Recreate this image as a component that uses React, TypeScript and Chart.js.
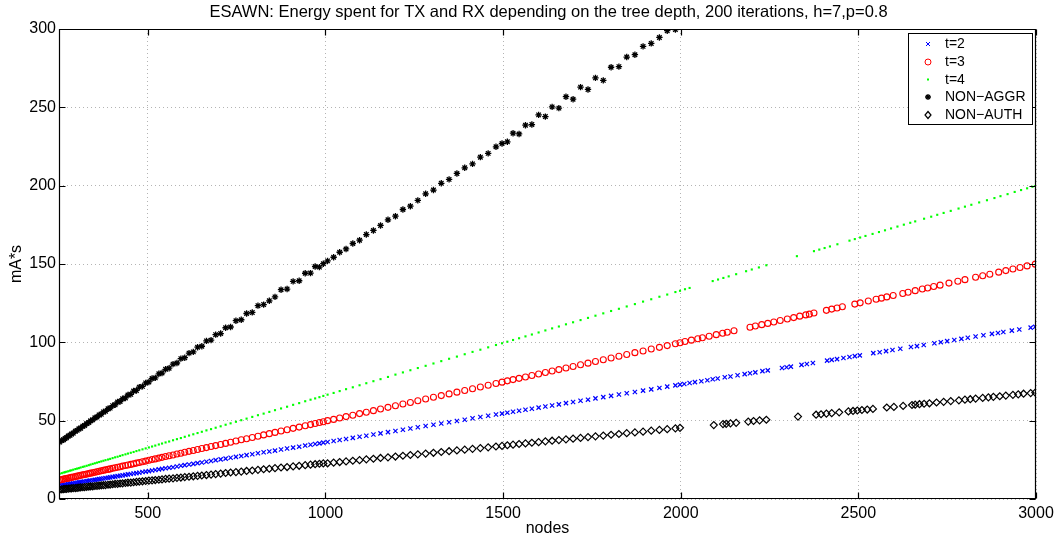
import React, { useEffect, useRef } from 'react';
import { Chart, registerables } from 'chart.js';

Chart.register(...registerables);

const FONT = '"Liberation Sans", Arial, Helvetica, sans-serif';

const titleText =
  'ESAWN: Energy spent for TX and RX depending on the tree depth, 200 iterations, h=7,p=0.8';
const xLabel = 'nodes';
const yLabel = 'mA*s';

const xTicks = [500, 1000, 1500, 2000, 2500, 3000];
const yTicks = [0, 50, 100, 150, 200, 250, 300];

const seriesNames = ['t=2', 't=3', 't=4', 'NON\u2212AGGR', 'NON\u2212AUTH'];

// node counts shared by every series up to ~2000 nodes
const nodes = [
  252, 258, 263, 267, 271, 276, 281, 285, 290, 296, 301, 306, 311, 317, 322, 328, 334, 339, 345, 351,
  357, 363, 369, 375, 381, 388, 394, 401, 408, 415, 422, 429, 437, 444, 452, 460, 468, 476, 485, 494,
  503, 512, 521, 531, 540, 550, 560, 571, 582, 593, 604, 616, 628, 640, 652, 665, 678, 691, 705, 719,
  733, 748, 763, 778, 794, 810, 826, 842, 858, 875, 892, 909, 926, 943, 958, 971, 983, 994,
  1006, 1023, 1040, 1058, 1077, 1096, 1115, 1135, 1155, 1176, 1197, 1218, 1239, 1260, 1282, 1304, 1326,
  1348, 1370, 1392, 1414, 1436, 1458, 1480, 1497,
  1512, 1528, 1545, 1563, 1581, 1600, 1619, 1638, 1657, 1677, 1697, 1718, 1739, 1760, 1782, 1804, 1826,
  1848, 1871, 1894, 1917, 1940, 1962, 1985, 1998,
];

// node counts above 2000, per series
const nodesT2Tail = [
  2010, 2025, 2040, 2058, 2075, 2090, 2104, 2124, 2140, 2160, 2180, 2195, 2210, 2230, 2245, 2285, 2298,
  2310, 2340, 2355, 2372, 2412, 2425, 2440, 2458, 2475, 2490, 2504, 2542, 2560, 2578, 2596, 2618, 2648,
  2665, 2684, 2714, 2732, 2750, 2770, 2790, 2808, 2830, 2852, 2876, 2893, 2908, 2932, 2953, 2985, 2998,
];
const nodesT3Tail = [
  2012, 2030, 2048, 2061, 2080, 2100, 2118, 2131, 2150, 2195, 2210, 2228, 2245, 2262, 2280, 2300, 2318,
  2335, 2352, 2362, 2375, 2410, 2425, 2440, 2455, 2490, 2505, 2528, 2550, 2565, 2580, 2598, 2625, 2640,
  2660, 2680, 2695, 2712, 2730, 2755, 2780, 2800, 2830, 2850, 2870, 2895, 2915, 2935, 2955, 2975, 2998,
];
const nodesT4Tail = [
  2012, 2025, 2090, 2105, 2120, 2135, 2156, 2184, 2200, 2220, 2241, 2327, 2375, 2390, 2405, 2420, 2441,
  2475, 2490, 2505, 2520, 2540, 2558, 2575, 2592, 2610, 2628, 2646, 2660, 2685, 2705, 2722, 2740, 2760,
  2782, 2800, 2818, 2840, 2862, 2883, 2900, 2920, 2940, 2958, 2975, 2990, 2998,
];
const nodesAuthTail = [
  2093, 2119, 2128, 2140, 2156, 2190, 2205, 2222, 2241, 2330, 2381, 2395, 2410, 2425, 2446, 2472, 2485,
  2497, 2510, 2525, 2541, 2580, 2600, 2626, 2651, 2660, 2672, 2685, 2700, 2720, 2740, 2760, 2783, 2800,
  2815, 2830, 2850, 2866, 2880, 2898, 2915, 2935, 2950, 2965, 2985, 2998,
];

// energy (mA*s), t=2
const energyT2 = [
  8.6, 8.8, 9.0, 9.1, 9.3, 9.5, 9.6, 9.8, 10.0, 10.2, 10.4, 10.6, 10.8, 11.0, 11.2, 11.4, 11.6, 11.8, 12.0, 12.2,
  12.4, 12.7, 12.9, 13.1, 13.3, 13.6, 13.8, 14.1, 14.3, 14.6, 14.8, 15.1, 15.4, 15.7, 16.0, 16.3, 16.5, 16.8, 17.2, 17.5,
  17.8, 18.2, 18.5, 18.9, 19.2, 19.6, 19.9, 20.3, 20.7, 21.2, 21.6, 22.0, 22.4, 22.9, 23.3, 23.8, 24.3, 24.8, 25.3, 25.8,
  26.3, 26.9, 27.4, 28.0, 28.6, 29.2, 29.8, 30.3, 30.9, 31.6, 32.2, 32.8, 33.4, 34.1, 34.6, 35.1, 35.5, 36.0,
  36.4, 37.0, 37.7, 38.3, 39.0, 39.7, 40.4, 41.2, 41.9, 42.7, 43.4, 44.2, 45.0, 45.8, 46.6, 47.4, 48.2,
  49.0, 49.8, 50.6, 51.5, 52.3, 53.1, 53.9, 54.5,
  55.1, 55.7, 56.3, 57.0, 57.6, 58.3, 59.0, 59.7, 60.4, 61.2, 61.9, 62.7, 63.4, 64.2, 65.0, 65.8, 66.7,
  67.5, 68.3, 69.2, 70.0, 70.9, 71.7, 72.5, 73.0,
  73.4, 74.0, 74.6, 75.2, 75.8, 76.4, 76.9, 77.7, 78.2, 79.0, 79.7, 80.3, 80.8, 81.6, 82.1, 83.6, 84.1,
  84.5, 85.6, 86.2, 86.8, 88.3, 88.8, 89.3, 90.0, 90.6, 91.2, 91.7, 93.1, 93.7, 94.4, 95.1, 95.9, 97.0,
  97.6, 98.3, 99.4, 100.1, 100.8, 101.5, 102.2, 102.9, 103.7, 104.5, 105.4, 106.0, 106.6, 107.5, 108.2, 109.4, 109.9,
];

// energy (mA*s), t=3
const energyT3 = [
  12.1, 12.4, 12.7, 12.9, 13.1, 13.3, 13.6, 13.8, 14.0, 14.3, 14.6, 14.8, 15.1, 15.4, 15.6, 15.9, 16.2, 16.5, 16.8, 17.1,
  17.4, 17.7, 18.0, 18.3, 18.6, 18.9, 19.2, 19.6, 19.9, 20.3, 20.6, 21.0, 21.4, 21.7, 22.1, 22.5, 22.9, 23.3, 23.8, 24.2,
  24.7, 25.2, 25.6, 26.1, 26.6, 27.1, 27.6, 28.1, 28.7, 29.2, 29.8, 30.4, 31.0, 31.6, 32.2, 32.8, 33.5, 34.1, 34.8, 35.5,
  36.2, 37.0, 37.8, 38.5, 39.3, 40.1, 40.9, 41.7, 42.5, 43.4, 44.2, 45.1, 45.9, 46.8, 47.5, 48.2, 48.8, 49.3,
  50.0, 50.8, 51.7, 52.6, 53.5, 54.5, 55.4, 56.4, 57.4, 58.5, 59.5, 60.6, 61.6, 62.7, 63.8, 64.9, 66.0,
  67.1, 68.2, 69.3, 70.4, 71.5, 72.6, 73.7, 74.6,
  75.4, 76.2, 77.0, 77.9, 78.8, 79.8, 80.7, 81.7, 82.6, 83.6, 84.6, 85.7, 86.7, 87.8, 88.9, 90.0, 91.1,
  92.2, 93.4, 94.5, 95.7, 96.8, 97.9, 99.1, 99.7,
  100.5, 101.4, 102.3, 102.9, 103.9, 104.9, 105.8, 106.4, 107.4, 109.6, 110.4, 111.3, 112.1, 113.0, 113.9, 114.9, 115.8,
  116.7, 117.5, 118.0, 118.7, 120.4, 121.2, 121.9, 122.7, 124.4, 125.2, 126.4, 127.5, 128.2, 129.0, 129.9, 131.2, 132.0,
  133.0, 134.0, 134.7, 135.6, 136.5, 137.8, 139.0, 140.0, 141.5, 142.5, 143.5, 144.8, 145.8, 146.8, 147.8, 148.8, 149.9,
];

// energy (mA*s), t=4
const energyT4 = [
  16.1, 16.5, 16.9, 17.1, 17.4, 17.7, 18.1, 18.3, 18.7, 19.1, 19.4, 19.7, 20.1, 20.5, 20.8, 21.2, 21.6, 22.0, 22.4, 22.8,
  23.2, 23.6, 24.0, 24.4, 24.8, 25.2, 25.6, 26.1, 26.6, 27.0, 27.5, 28.0, 28.5, 29.0, 29.5, 30.0, 30.6, 31.1, 31.7, 32.3,
  32.9, 33.5, 34.1, 34.8, 35.4, 36.1, 36.7, 37.5, 38.2, 38.9, 39.7, 40.5, 41.3, 42.1, 42.9, 43.8, 44.6, 45.5, 46.4, 47.4,
  48.3, 49.3, 50.3, 51.3, 52.4, 53.5, 54.5, 55.6, 56.7, 57.8, 58.9, 60.1, 61.2, 62.4, 63.4, 64.2, 65.0, 65.8,
  66.6, 67.7, 68.9, 70.1, 71.3, 72.6, 73.9, 75.2, 76.5, 77.9, 79.4, 80.8, 82.2, 83.6, 85.0, 86.5, 88.0,
  89.5, 90.9, 92.4, 93.9, 95.3, 96.8, 98.3, 99.4,
  100.4, 101.5, 102.6, 103.8, 105.0, 106.3, 107.6, 108.9, 110.1, 111.5, 112.8, 114.2, 115.6, 117.0, 118.5, 120.0, 121.4,
  122.9, 124.4, 126.0, 127.5, 129.1, 130.5, 132.1, 132.9,
  133.9, 134.7, 139.1, 140.1, 141.1, 142.1, 143.5, 145.4, 146.5, 147.8, 149.2, 155.0, 158.2, 159.2, 160.2, 161.2, 162.6,
  164.9, 165.9, 166.9, 167.9, 169.2, 170.4, 171.5, 172.7, 173.9, 175.1, 176.3, 177.2, 178.9, 180.2, 181.4, 182.6, 183.9,
  185.4, 186.6, 187.8, 189.3, 190.7, 192.1, 193.3, 194.6, 196.0, 197.2, 198.3, 199.3, 199.8,
];

// energy (mA*s), without aggregation (leaves the axis above 300)
const energyNonAggr = [
  36.3, 37.4, 37.8, 38.7, 39.1, 40.2, 40.6, 41.5, 42.0, 43.3, 43.8, 44.8, 45.2, 46.5, 46.9, 48.2, 48.8, 49.9, 50.5, 51.8,
  52.3, 53.7, 54.1, 55.6, 56.0, 57.6, 58.0, 59.6, 60.1, 61.9, 62.2, 64.0, 64.5, 66.4, 66.8, 68.9, 69.3, 71.4, 71.9, 74.1,
  74.7, 76.9, 77.3, 79.9, 80.4, 82.8, 83.5, 86.1, 86.8, 89.6, 90.2, 93.1, 93.9, 96.9, 97.5, 100.9, 101.4, 104.9, 105.6, 109.3,
  109.8, 113.8, 114.4, 118.4, 119.1, 123.4, 124.1, 126.5, 129.0, 133.6, 134.0, 138.9, 139.3, 144.1, 144.2, 148.4, 148.0, 150.2,
  152.0, 154.3, 157.5, 159.6, 163.1, 165.2, 168.8, 171.4, 174.6, 178.2, 180.5, 184.8, 186.9, 190.6, 194.8, 197.2, 201.5,
  204.0, 207.8, 211.4, 213.9, 218.2, 220.6, 224.8, 226.9,
  228.0, 233.5, 233.0, 238.6, 239.0, 245.2, 244.1, 250.3, 249.5, 256.8, 255.2, 262.9, 261.4, 268.8, 267.2, 275.6, 276.0,
  282.1, 283.6, 288.9, 290.8, 294.6, 298.9, 299.6,
];

// energy (mA*s), without authentication
const energyNonAuth = [
  6.0, 6.2, 6.3, 6.4, 6.5, 6.6, 6.7, 6.8, 6.9, 7.0, 7.1, 7.3, 7.4, 7.5, 7.6, 7.8, 7.9, 8.0, 8.1, 8.3,
  8.4, 8.5, 8.7, 8.8, 8.9, 9.1, 9.2, 9.4, 9.6, 9.7, 9.9, 10.0, 10.2, 10.4, 10.5, 10.7, 10.9, 11.1, 11.3, 11.5,
  11.7, 11.9, 12.1, 12.3, 12.5, 12.8, 13.0, 13.2, 13.5, 13.7, 14.0, 14.2, 14.5, 14.8, 15.0, 15.3, 15.6, 15.9, 16.2, 16.6,
  16.9, 17.2, 17.5, 17.9, 18.2, 18.6, 19.0, 19.3, 19.7, 20.1, 20.4, 20.8, 21.2, 21.6, 21.9, 22.2, 22.5, 22.7,
  22.8, 23.2, 23.6, 24.0, 24.4, 24.8, 25.3, 25.7, 26.2, 26.6, 27.1, 27.6, 28.1, 28.5, 29.0, 29.5, 30.0,
  30.5, 31.0, 31.5, 32.0, 32.5, 33.0, 33.5, 33.9,
  34.3, 34.7, 35.1, 35.5, 35.9, 36.3, 36.8, 37.2, 37.6, 38.1, 38.5, 39.0, 39.5, 40.0, 40.5, 41.0, 41.5,
  42.0, 42.5, 43.0, 43.6, 44.1, 44.6, 45.1, 45.4,
  47.2, 47.8, 48.0, 48.3, 48.6, 49.4, 49.8, 50.2, 50.6, 52.6, 53.8, 54.1, 54.5, 54.8, 55.3, 55.9, 56.2,
  56.5, 56.8, 57.1, 57.5, 58.4, 58.8, 59.4, 60.0, 60.2, 60.5, 60.8, 61.1, 61.6, 62.0, 62.5, 63.0, 63.4,
  63.7, 64.1, 64.5, 64.9, 65.2, 65.6, 66.0, 66.5, 66.8, 67.2, 67.6, 67.9,
];

const toPoints = (xs: number[], ys: number[]) => ys.map((y, i) => ({ x: xs[i], y }));

// axes frame with inward ticks, title, axis labels and the boxed legend
const figurePlugin = {
  id: 'figureDecor',
  afterDraw(chart: any) {
    const { ctx, chartArea: a, scales } = chart;
    const L = Math.round(a.left) + 0.5;
    const R = Math.round(a.right) - 0.5;
    const T = Math.round(a.top) + 0.5;
    const B = Math.round(a.bottom) - 0.5;
    ctx.save();
    ctx.strokeStyle = '#000';
    ctx.lineWidth = 1.2;
    ctx.setLineDash([]);
    ctx.beginPath();
    ctx.rect(L, T, R - L, B - T);
    const tick = 6;
    xTicks.forEach((v) => {
      const x = Math.round(scales.x.getPixelForValue(v)) + 0.5;
      ctx.moveTo(x, B);
      ctx.lineTo(x, B - tick);
      ctx.moveTo(x, T);
      ctx.lineTo(x, T + tick);
    });
    yTicks.forEach((v) => {
      const y = Math.round(scales.y.getPixelForValue(v)) + 0.5;
      ctx.moveTo(L, y);
      ctx.lineTo(L + tick, y);
      ctx.moveTo(R, y);
      ctx.lineTo(R - tick, y);
    });
    ctx.stroke();

    ctx.fillStyle = '#000';
    ctx.textAlign = 'center';
    ctx.textBaseline = 'middle';
    ctx.font = `16.5px ${FONT}`;
    ctx.fillText(titleText, (a.left + a.right) / 2 + 1, 12);
    ctx.font = `16px ${FONT}`;
    ctx.fillText(xLabel, (a.left + a.right) / 2, 529);
    ctx.save();
    ctx.translate(17, (a.top + a.bottom) / 2);
    ctx.rotate(-Math.PI / 2);
    ctx.fillText(yLabel, 0, 0);
    ctx.restore();

    // legend box
    const bx = 908.5, by = 33.5, bw = 124, bh = 91;
    ctx.fillStyle = '#fff';
    ctx.fillRect(bx, by, bw, bh);
    ctx.lineWidth = 1;
    ctx.strokeStyle = '#000';
    ctx.strokeRect(bx, by, bw, bh);
    const rows = [44, 62, 79.5, 97, 115];
    const mx = 928;
    // t=2 cross
    ctx.strokeStyle = '#0000ff';
    ctx.beginPath();
    ctx.moveTo(mx - 2, rows[0] - 2); ctx.lineTo(mx + 2, rows[0] + 2);
    ctx.moveTo(mx + 2, rows[0] - 2); ctx.lineTo(mx - 2, rows[0] + 2);
    ctx.stroke();
    // t=3 circle
    ctx.strokeStyle = '#ff0000';
    ctx.beginPath();
    ctx.arc(mx, rows[1], 3, 0, Math.PI * 2);
    ctx.stroke();
    // t=4 dot
    ctx.fillStyle = '#00ff00';
    ctx.fillRect(mx - 1, rows[2] - 1, 2, 2);
    // NON-AGGR asterisk
    ctx.strokeStyle = '#000';
    ctx.lineWidth = 1.3;
    ctx.beginPath();
    ctx.moveTo(mx - 3, rows[3]); ctx.lineTo(mx + 3, rows[3]);
    ctx.moveTo(mx, rows[3] - 3); ctx.lineTo(mx, rows[3] + 3);
    ctx.moveTo(mx - 2.1, rows[3] - 2.1); ctx.lineTo(mx + 2.1, rows[3] + 2.1);
    ctx.moveTo(mx + 2.1, rows[3] - 2.1); ctx.lineTo(mx - 2.1, rows[3] + 2.1);
    ctx.stroke();
    // NON-AUTH diamond
    ctx.lineWidth = 1.2;
    ctx.beginPath();
    ctx.moveTo(mx, rows[4] - 3.5);
    ctx.lineTo(mx + 3, rows[4]);
    ctx.lineTo(mx, rows[4] + 3.5);
    ctx.lineTo(mx - 3, rows[4]);
    ctx.closePath();
    ctx.stroke();

    ctx.fillStyle = '#000';
    ctx.textAlign = 'left';
    ctx.font = `14px ${FONT}`;
    seriesNames.forEach((name, i) => ctx.fillText(name, 945, rows[i] + 0.5));
    ctx.restore();
  },
};

export default function App() {
  const canvasRef = useRef<HTMLCanvasElement | null>(null);

  useEffect(() => {
    const canvas = canvasRef.current;
    if (!canvas) return;
    const tickFont = { family: FONT, size: 16 };
    const plainLabel = (v: any) => String(v);
    const chart = new Chart(canvas, {
      type: 'scatter',
      data: {
        datasets: [
          {
            label: seriesNames[0],
            data: toPoints([...nodes, ...nodesT2Tail], energyT2),
            pointStyle: 'crossRot',
            pointRadius: 3,
            pointBorderWidth: 1.2,
            pointBorderColor: '#0000ff',
            pointBackgroundColor: 'rgba(0,0,0,0)',
            order: 4,
          },
          {
            label: seriesNames[1],
            data: toPoints([...nodes, ...nodesT3Tail], energyT3),
            pointStyle: 'circle',
            pointRadius: 3,
            pointBorderWidth: 1.1,
            pointBorderColor: '#ff0000',
            pointBackgroundColor: 'rgba(0,0,0,0)',
            order: 3,
          },
          {
            label: seriesNames[2],
            data: toPoints([...nodes, ...nodesT4Tail], energyT4),
            pointStyle: 'rect',
            pointRadius: 1.5,
            pointBorderWidth: 0,
            pointBorderColor: '#00ff00',
            pointBackgroundColor: '#00ff00',
            order: 2,
          },
          {
            label: seriesNames[3],
            data: toPoints(nodes, energyNonAggr),
            pointStyle: 'star',
            pointRadius: 3.2,
            pointBorderWidth: 1.3,
            pointBorderColor: '#000000',
            pointBackgroundColor: 'rgba(0,0,0,0)',
            order: 1,
          },
          {
            label: seriesNames[4],
            data: toPoints([...nodes, ...nodesAuthTail], energyNonAuth),
            pointStyle: 'rectRot',
            pointRadius: 3.5,
            pointBorderWidth: 1.2,
            pointBorderColor: '#000000',
            pointBackgroundColor: 'rgba(0,0,0,0)',
            order: 0,
          },
        ],
      },
      options: {
        responsive: false,
        maintainAspectRatio: false,
        animation: false,
        events: [],
        layout: { padding: { top: 29, right: 24, left: 0, bottom: 0 } },
        plugins: {
          legend: { display: false },
          title: { display: false },
          tooltip: { enabled: false },
        },
        scales: {
          x: {
            type: 'linear',
            min: 250,
            max: 3000,
            afterBuildTicks: (scale: any) => {
              scale.ticks = xTicks.map((value) => ({ value }));
            },
            afterFit: (scale: any) => {
              scale.height = 45;
            },
            ticks: {
              font: tickFont,
              color: '#000',
              padding: 5,
              maxRotation: 0,
              autoSkip: false,
              callback: plainLabel,
            },
            grid: { color: '#b4b4b4', lineWidth: 1, drawTicks: false },
            border: { display: false, dash: [1, 3] },
          },
          y: {
            type: 'linear',
            min: 0,
            max: 300,
            afterBuildTicks: (scale: any) => {
              scale.ticks = yTicks.map((value) => ({ value }));
            },
            afterFit: (scale: any) => {
              scale.width = 59;
            },
            ticks: {
              font: tickFont,
              color: '#000',
              padding: 3,
              autoSkip: false,
              callback: plainLabel,
            },
            grid: { color: '#b4b4b4', lineWidth: 1, drawTicks: false },
            border: { display: false, dash: [1, 3] },
          },
        },
      },
      plugins: [figurePlugin],
    });
    return () => chart.destroy();
  }, []);

  return (
    <div style={{ position: 'fixed', left: 0, top: 0, width: 1060, height: 544, background: '#fff' }}>
      <canvas ref={canvasRef} width={1060} height={544} style={{ display: 'block' }} />
    </div>
  );
}
